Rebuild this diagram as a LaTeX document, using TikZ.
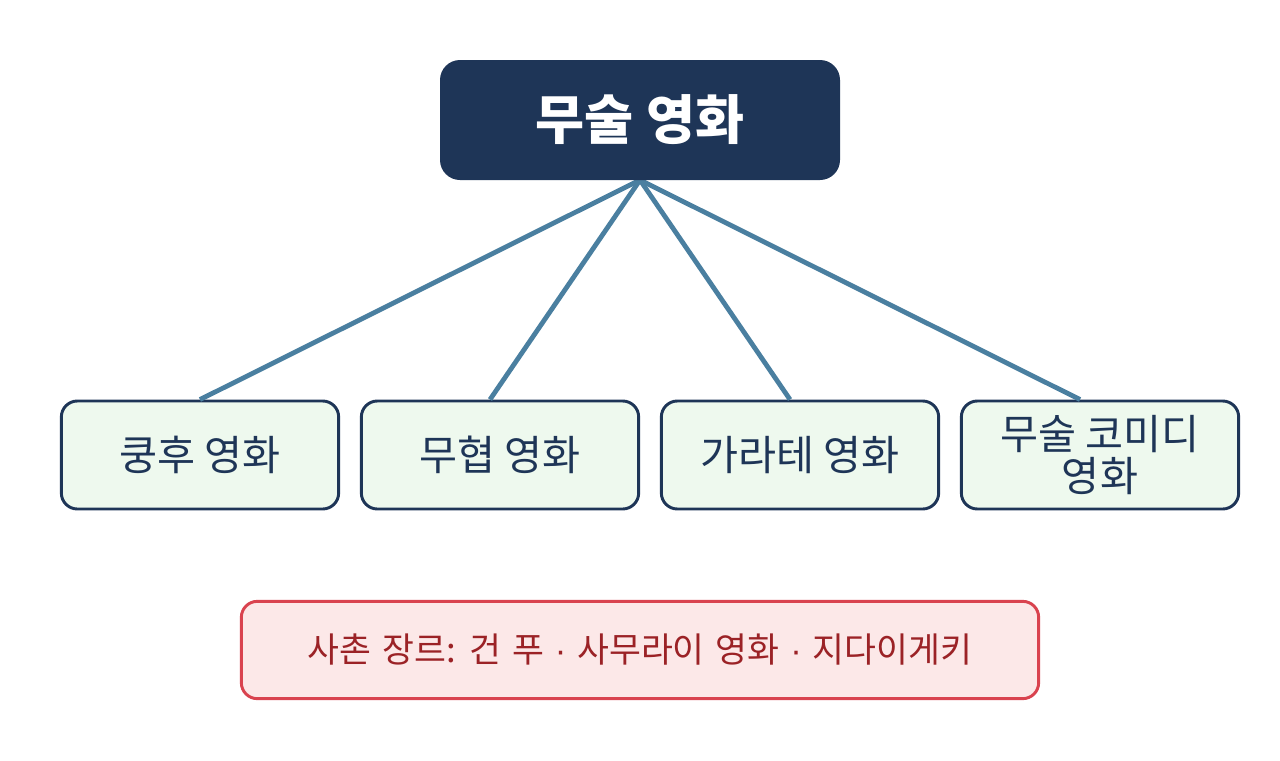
\documentclass[tikz,border=0pt]{standalone}
\usepackage{fontspec}
\setmainfont{Noto Sans CJK KR}
\newfontfamily\notefont[WordSpace=1.4]{Noto Sans CJK KR}
\newfontfamily\dotfont{Liberation Sans}
\newcommand{\mdot}{{\dotfont·}}
\usetikzlibrary{positioning}
\definecolor{navy}{HTML}{1E3557}
\definecolor{linkc}{HTML}{4A7FA0}
\definecolor{greenfill}{HTML}{EEF9EE}
\definecolor{redline}{HTML}{D9434F}
\definecolor{redfill}{HTML}{FCE8E8}
\definecolor{redtext}{HTML}{9B2226}
\begin{document}
\begin{tikzpicture}[x=0.75pt,y=-0.75pt,
  topbox/.style={rectangle,rounded corners=15pt,fill=navy,draw=none,minimum width=300pt,minimum height=90pt,text=white,font=\fontsize{40}{44}\selectfont\bfseries,inner sep=0pt},
  catbox/.style={rectangle,rounded corners=12pt,fill=greenfill,draw=navy,line width=2.2pt,minimum width=208pt,minimum height=81pt,text=navy,font=\fontsize{31}{31}\selectfont,align=center,inner sep=0pt},
  notebox/.style={rectangle,rounded corners=12pt,fill=redfill,draw=redline,line width=2.2pt,minimum width=598pt,minimum height=73pt,text=redtext,font=\notefont\fontsize{26}{30}\selectfont,inner sep=0pt},
  link/.style={draw=linkc,line width=3.6pt}]
\useasboundingbox (0,0) rectangle (1280,760);
\coordinate (apex) at (640,180);
\node[catbox] (b1) at (200,455) {쿵후 영화};
\node[catbox] (b2) at (500,455) {무협 영화};
\node[catbox] (b3) at (800,455) {가라테 영화};
\node[catbox] (b4) at (1100,455) {무술 코미디\\영화};
\node[notebox] (note) at (640,650) {사촌 장르: 건 푸 \mdot{} 사무라이 영화 \mdot{} 지다이게키};
\coordinate (e2) at ([xshift=-7.5pt]b2.north);
\coordinate (e3) at ([xshift=-7.5pt]b3.north);
\coordinate (e4) at ([xshift=-15pt]b4.north);
\draw[link] (apex) -- (b1.north);
\draw[link] (apex) -- (e2);
\draw[link] (apex) -- (e3);
\draw[link] (apex) -- (e4);
\node[topbox] (top) at (640,120) {무술 영화};
\end{tikzpicture}
\end{document}
